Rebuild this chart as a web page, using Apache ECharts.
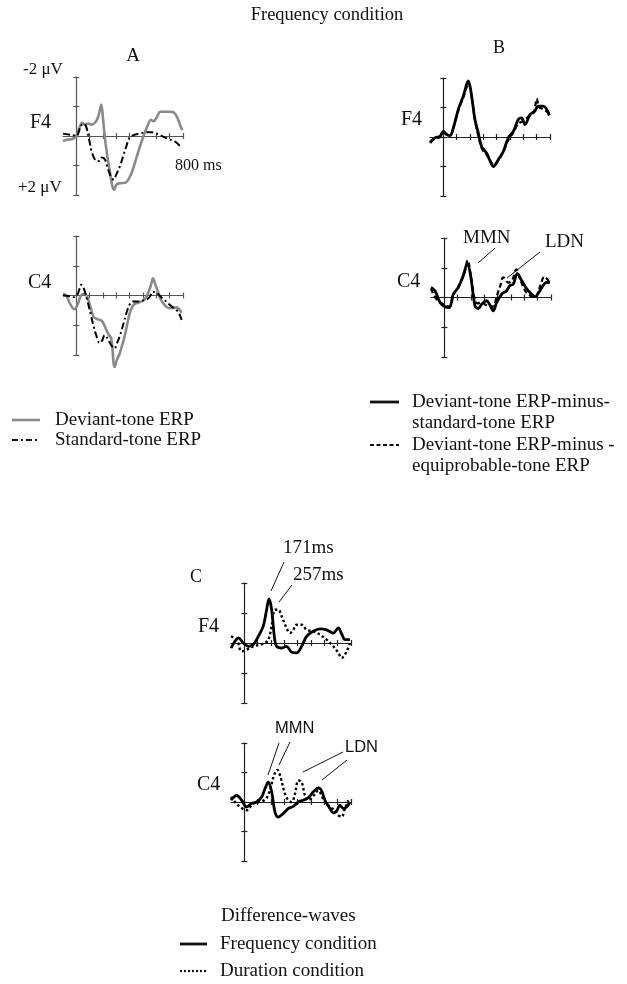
<!DOCTYPE html>
<html><head><meta charset="utf-8">
<script src="https://cdn.jsdelivr.net/npm/echarts@6/dist/echarts.min.js"></script>
<style>html,body{margin:0;padding:0;background:#fff}#c{width:627px;height:984px}</style>
</head><body><div id="c"></div>
<script>
// ---------- data (time in ms, amplitude in µV; negative plotted up) ----------
const tickTimes = [100,200,300,400,500,600,700,800];
const tickVolts = [-2,-1,0,1,2];

// Panel A, F4
const aF4_dev_t = [-100,-60,-30,0,25,45,65,90,115,140,160,175,187,200,215,235,255,270,285,300,330,370,410,440,470,500,530,560,580,600,630,660,700,730,760,780,795];
const aF4_dev_v = [0.17,0.12,0.1,0,-0.3,-0.45,-0.38,-0.42,-0.38,-0.45,-0.6,-0.85,-1.07,-0.6,0.1,0.75,1.3,1.7,1.82,1.65,1.6,1.58,1.3,0.9,0.45,0.05,-0.3,-0.55,-0.5,-0.6,-0.82,-0.82,-0.82,-0.8,-0.6,-0.35,-0.2];
const aF4_std_t = [-100,-60,-25,0,35,55,75,95,120,150,170,192,215,240,262,280,300,325,350,375,400,430,470,510,560,610,650,690,720,750,780,795];
const aF4_std_v = [-0.08,-0.05,-0.03,0,-0.35,-0.42,-0.3,0.1,0.6,0.84,0.85,0.73,0.8,1.15,1.4,1.48,1.3,1.05,0.7,0.35,0.05,-0.03,-0.08,-0.12,-0.13,-0.07,0.02,0.1,0.15,0.22,0.35,0.4];
// Panel A, C4
const aC4_dev_t = [-100,-75,-50,-15,10,35,65,90,110,130,160,190,215,240,262,287,305,325,345,362,380,400,420,437,460,490,515,540,560,575,590,610,630,650,675,700,725,750,770,790];
const aC4_dev_v = [-0.06,0.0,0.25,0.46,0.3,0.0,-0.06,0.15,0.45,0.72,0.8,0.85,1.05,1.3,1.45,2.4,2.15,1.95,1.65,1.38,1.0,0.6,0.38,0.28,0.25,0.2,0.12,-0.1,-0.35,-0.58,-0.4,-0.15,0.1,0.25,0.38,0.43,0.42,0.4,0.45,0.58];
const aC4_std_t = [-100,-60,-25,0,15,37,55,75,100,125,150,175,195,212,235,255,270,287,305,325,350,375,400,425,450,475,500,525,550,575,600,625,650,675,700,725,750,770,790];
const aC4_std_v = [0.0,0.02,0.06,0.0,-0.1,-0.36,-0.25,0.05,0.48,0.95,1.35,1.6,1.5,1.33,1.45,1.62,1.72,1.78,1.6,1.38,1.0,0.6,0.3,0.2,0.2,0.2,0.17,0.15,0.05,-0.13,-0.1,0.0,0.12,0.2,0.31,0.4,0.48,0.6,0.82];
// Panel B, F4
const bF4_std_t = [-100,-62,-25,0,25,50,75,112,150,187,212,237,262,287,325,350,375,412,450,487,525,562,587,612,650,687,712,750,795];
const bF4_std_v = [0.2,0.03,-0.02,-0.19,-0.08,-0.05,-0.31,-0.93,-1.39,-1.9,-1.39,-0.59,-0.14,0.32,0.55,0.8,1.0,0.77,0.49,0.03,-0.19,-0.59,-0.65,-0.42,-0.76,-0.88,-1.05,-1.05,-0.73];
const bF4_eq_t = [-100,-62,-25,0,25,50,75,112,150,190,215,240,265,290,325,350,380,412,450,487,525,562,600,640,680,700,720,750,795];
const bF4_eq_v = [0.15,0.05,0.0,-0.15,-0.1,-0.05,-0.3,-0.9,-1.35,-1.8,-1.3,-0.5,0.0,0.4,0.6,0.8,0.95,0.8,0.5,0.1,-0.15,-0.45,-0.55,-0.7,-0.85,-1.3,-1.0,-0.95,-0.8];
// Panel B, C4
const bC4_std_t = [-100,-70,-32,5,37,67,105,142,172,197,230,255,280,317,342,367,392,430,467,492,517,547,580,617,655,680,717,767,792];
const bC4_std_v = [-0.34,-0.23,0.17,0.31,0.34,-0.11,-0.34,-0.74,-1.14,-0.74,0.28,0.37,0.23,0.11,0.25,0.45,0.17,-0.11,-0.23,-0.4,-0.45,-0.8,-0.57,-0.3,-0.11,-0.03,-0.23,-0.51,-0.49];
const bC4_eq_t = [-100,-60,0,40,70,110,150,175,200,230,250,280,310,340,370,390,420,442,480,510,540,570,610,650,680,720,750,790];
const bC4_eq_v = [-0.3,0.05,0.25,0.3,-0.1,-0.4,-0.8,-1.25,-0.7,0.1,0.2,0.15,0.25,0.3,0.3,0.0,-0.4,-0.68,-0.5,-0.6,-0.95,-0.6,-0.2,-0.05,0.0,-0.4,-0.7,-0.5];
// Panel C, F4
const cF4_freq_t = [-100,-70,-45,-7,30,67,105,142,167,185,205,225,242,280,317,355,392,430,467,517,567,617,667,705,730,755,792];
const cF4_freq_v = [0.17,-0.06,-0.17,0,0.11,0.05,-0.22,-0.56,-1.11,-1.47,-1.11,-0.22,0.11,0.17,0.11,0.31,0.33,0.11,-0.22,-0.39,-0.47,-0.44,-0.33,-0.5,-0.3,-0.11,-0.11];
const cF4_dur_t = [-100,-57,-20,17,67,117,155,180,205,230,255,280,317,342,367,392,430,467,517,567,617,667,705,730,767,792];
const cF4_dur_v = [-0.22,-0.11,0.28,0.22,0.11,0.06,0,-0.11,-0.56,-1.11,-1.11,-0.89,-0.5,-0.33,-0.44,-0.61,-0.61,-0.44,-0.39,-0.28,-0.11,0.11,0.33,0.5,0.28,0];
// Panel C, C4
const cC4_freq_t = [-100,-57,-20,17,55,92,130,155,180,205,230,255,292,330,367,405,442,480,517,555,580,605,642,667,692,717,742,767,792];
const cC4_freq_v = [-0.06,-0.22,-0.06,0.17,0.05,0,-0.17,-0.45,-0.67,-0.34,0.34,0.51,0.39,0.22,0.15,0,-0.06,-0.15,-0.34,-0.48,-0.38,-0.06,0.22,0.37,0.3,0.11,0.22,0.17,0];
const cC4_dur_t = [-100,-70,-32,17,67,117,162,192,222,247,272,297,322,355,380,405,430,455,480,517,555,592,642,680,705,730,755,780];
const cC4_dur_v = [-0.17,0,0.17,0.28,0.05,0,-0.11,-0.39,-0.9,-1.09,-0.84,-0.39,-0.11,0,-0.28,-0.73,-0.67,-0.22,-0.06,-0.2,-0.39,-0.1,0.17,0.28,0.45,0.5,0.22,-0.06];

// ---------- layout ----------
const SERIF = "'Liberation Serif','Times New Roman',serif";
const SANS = "'Liberation Sans',Arial,sans-serif";
const grids = [
  {left:63, top:77, width:120, height:118, axis:'#555'},   // A F4
  {left:63, top:236, width:120, height:119, axis:'#555'},  // A C4
  {left:430, top:78, width:120, height:118, axis:'#222'},  // B F4
  {left:431, top:238, width:120, height:119, axis:'#222'}, // B C4
  {left:231, top:583, width:120, height:120, axis:'#222'}, // C F4
  {left:231, top:743, width:120, height:118, axis:'#222'}  // C C4
];
const xAxes = [], yAxes = [];
grids.forEach((g, i) => {
  const axisCol = g.axis;
  [false, true].forEach(inside => {
    xAxes.push({type:'value', gridIndex:i, position:'bottom', min:-100, max:800, interval:100,
      axisLine:{show:!inside, onZero:true, lineStyle:{color:axisCol, width:1.2}},
      axisTick:{show:true, inside:inside, length:3, customValues:tickTimes, lineStyle:{color:axisCol, width:1.2}},
      axisLabel:{show:false}, splitLine:{show:false}});
    yAxes.push({type:'value', gridIndex:i, position:'left', min:-2, max:2, interval:1, inverse:true,
      axisLine:{show:!inside, onZero:true, lineStyle:{color:axisCol, width:1.2}},
      axisTick:{show:true, inside:inside, length:3, customValues:tickVolts, lineStyle:{color:axisCol, width:1.2}},
      axisLabel:{show:false}, splitLine:{show:false}});
  });
});
function pair(t, v){ return t.map((x, k) => [x, v[k]]); }
const GRAY = {color:'#8a8a8a', width:2.6, type:'solid'};
const DASHDOT = {color:'#000', width:2, type:[7,3,2,3]};
const SOLID = {color:'#000', width:2.8, type:'solid'};
const DASH = {color:'#000', width:2.2, type:[5,3]};
const DOT = {color:'#000', width:2.4, type:[2.5,2.5]};
function ser(gi, t, v, ls, z){
  return {type:'line', xAxisIndex:gi*2, yAxisIndex:gi*2, data:pair(t, v), smooth:0.35,
    showSymbol:false, symbol:'none', clip:false, lineStyle:ls, z:z||2, silent:true, animation:false};
}
const series = [
  ser(0, aF4_std_t, aF4_std_v, DASHDOT, 3), ser(0, aF4_dev_t, aF4_dev_v, GRAY, 2),
  ser(1, aC4_std_t, aC4_std_v, DASHDOT, 3), ser(1, aC4_dev_t, aC4_dev_v, GRAY, 2),
  ser(2, bF4_eq_t, bF4_eq_v, DASH, 2), ser(2, bF4_std_t, bF4_std_v, SOLID, 3),
  ser(3, bC4_eq_t, bC4_eq_v, DASH, 2), ser(3, bC4_std_t, bC4_std_v, SOLID, 3),
  ser(4, cF4_dur_t, cF4_dur_v, DOT, 2), ser(4, cF4_freq_t, cF4_freq_v, SOLID, 3),
  ser(5, cC4_dur_t, cC4_dur_v, DOT, 2), ser(5, cC4_freq_t, cC4_freq_v, SOLID, 3)
];

function txt(s, x, y, size, fam, align){
  return {type:'text', x:x, y:y, silent:true,
    style:{text:s, font:size+'px '+(fam||SERIF), fill:'#111', align:align||'left', verticalAlign:'middle'}};
}
function ln(x1, y1, x2, y2, w, dash, col){
  return {type:'line', silent:true, shape:{x1,y1,x2,y2},
    style:{stroke:col||'#111', lineWidth:w||1, lineDash:dash||null}};
}
const LEG = 19;
const graphic = [
  txt('Frequency condition', 327, 15, 18.5, SERIF, 'center'),
  txt('A', 133, 56, 19, SERIF, 'center'),
  txt('B', 499, 48, 18, SERIF, 'center'),
  txt('-2 \u03bcV', 23, 70, 17),
  txt('F4', 30, 123, 20),
  txt('800 ms', 175, 166, 16),
  txt('+2 \u03bcV', 18, 188, 17),
  txt('C4', 28, 283, 20),
  txt('F4', 401, 120, 20),
  txt('C4', 397, 282, 20),
  txt('MMN', 463, 238, 19),
  txt('LDN', 545, 242, 19),
  ln(495, 248, 478, 263), ln(540, 252, 507, 278),
  txt('C', 190, 577, 18),
  txt('171ms', 283, 548, 19),
  txt('257ms', 293, 575, 19),
  ln(284, 562, 271, 591), ln(292, 585, 279, 602),
  txt('F4', 198, 627, 20),
  txt('MMN', 275, 728, 16.5, SANS),
  txt('LDN', 345, 747, 16.5, SANS),
  ln(279, 743, 268, 775), ln(290, 742, 279, 765),
  ln(343, 752, 303, 772), ln(347, 760, 322, 780),
  txt('C4', 197, 785, 20),
  // legend A
  ln(12, 420, 40, 420, 2.6, null, '#8a8a8a'),
  txt('Deviant-tone ERP', 55, 420, LEG),
  ln(12, 440, 40, 440, 2, [6,3,2,3]),
  txt('Standard-tone ERP', 55, 440, LEG),
  // legend B
  ln(370, 402, 399, 402, 2.8),
  txt('Deviant-tone ERP-minus-', 412, 402, LEG),
  txt('standard-tone ERP', 412, 423, LEG),
  ln(370, 445, 399, 445, 2.2, [4,2.5]),
  txt('Deviant-tone ERP-minus -', 412, 445, LEG),
  txt('equiprobable-tone ERP', 412, 466, LEG),
  // legend C
  txt('Difference-waves', 221, 916, LEG),
  ln(180, 944, 207, 944, 2.8),
  txt('Frequency condition', 220, 944, LEG),
  ln(180, 971, 207, 971, 2.2, [2,2]),
  txt('Duration condition', 220, 971, LEG)
];

const chart = echarts.init(document.getElementById('c'), null, {renderer:'canvas'});
chart.setOption({
  animation:false, backgroundColor:'#fff',
  grid:grids.map(g => ({left:g.left, top:g.top, width:g.width, height:g.height, containLabel:false})),
  xAxis:xAxes, yAxis:yAxes, series:series, graphic:graphic
});
</script></body></html>
